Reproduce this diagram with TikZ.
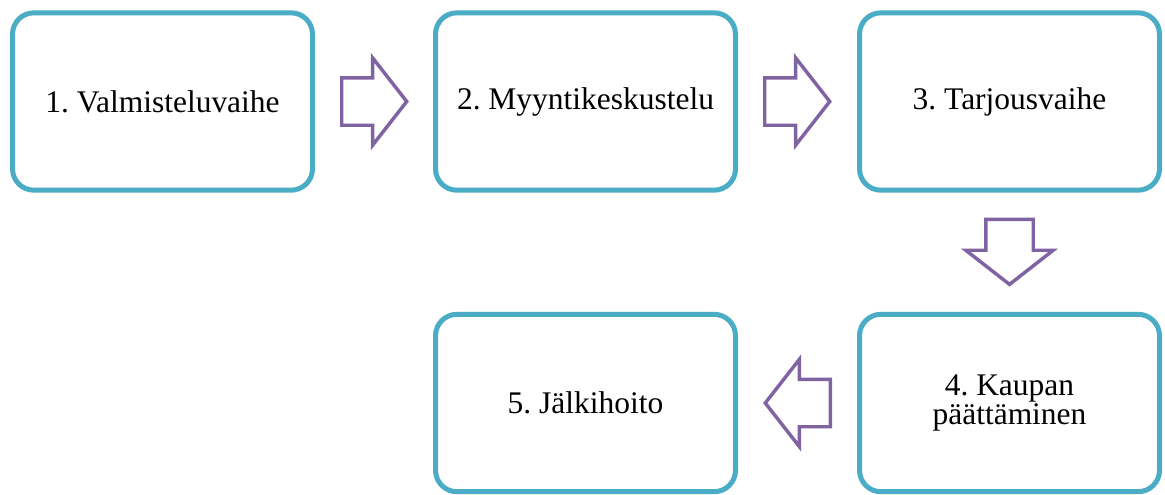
\documentclass[tikz,border=0pt]{standalone}
\usepackage{fontspec}
\setmainfont{Liberation Serif}
\usetikzlibrary{shapes.arrows,calc}
\definecolor{boxteal}{HTML}{4BACC6}
\definecolor{arrowpurple}{HTML}{8064A2}
\frenchspacing

\tikzset{
  phase/.style={draw=boxteal, line width=3.75pt, rounded corners=16pt, fill=white,
    minimum width=225pt, minimum height=133pt, align=center,
    font=\fontsize{23.6}{22}\selectfont},
  blockarrow/.style={single arrow, draw=arrowpurple, line width=2.6pt, fill=white,
    inner xsep=0pt, inner ysep=16.5pt, minimum height=48.75pt, anchor=tail,
    single arrow head extend=15pt, single arrow tip angle=104}
}

\begin{document}
\begin{tikzpicture}[x=0.75pt, y=-0.75pt]
\useasboundingbox (0,0) rectangle (1165,494);
\node (v1)[phase] at (162.5,101.5) {1. Valmisteluvaihe};
\node (v2)[phase] at (585.5,101.5) {2. Myyntikeskustelu};
\node (v3)[phase] at (1009.5,101.5) {3. Tarjousvaihe};
\node (v4)[phase] at (1009.5,403) {4. Kaupan\\päättäminen};
\node (v5)[phase] at (585.5,403) {5. Jälkihoito};
% siirtymät
\node (a12)[blockarrow] at ($(v1.east)+(25,0)$) {};
\node (a23)[blockarrow] at ($(v2.east)+(25,0)$) {};
\node (a34)[blockarrow, rotate=-90] at ($(v3.south)+(0,25)$) {};
\node (a45)[blockarrow, rotate=180] at ($(v4.west)+(-25,0)$) {};
\end{tikzpicture}
\end{document}
